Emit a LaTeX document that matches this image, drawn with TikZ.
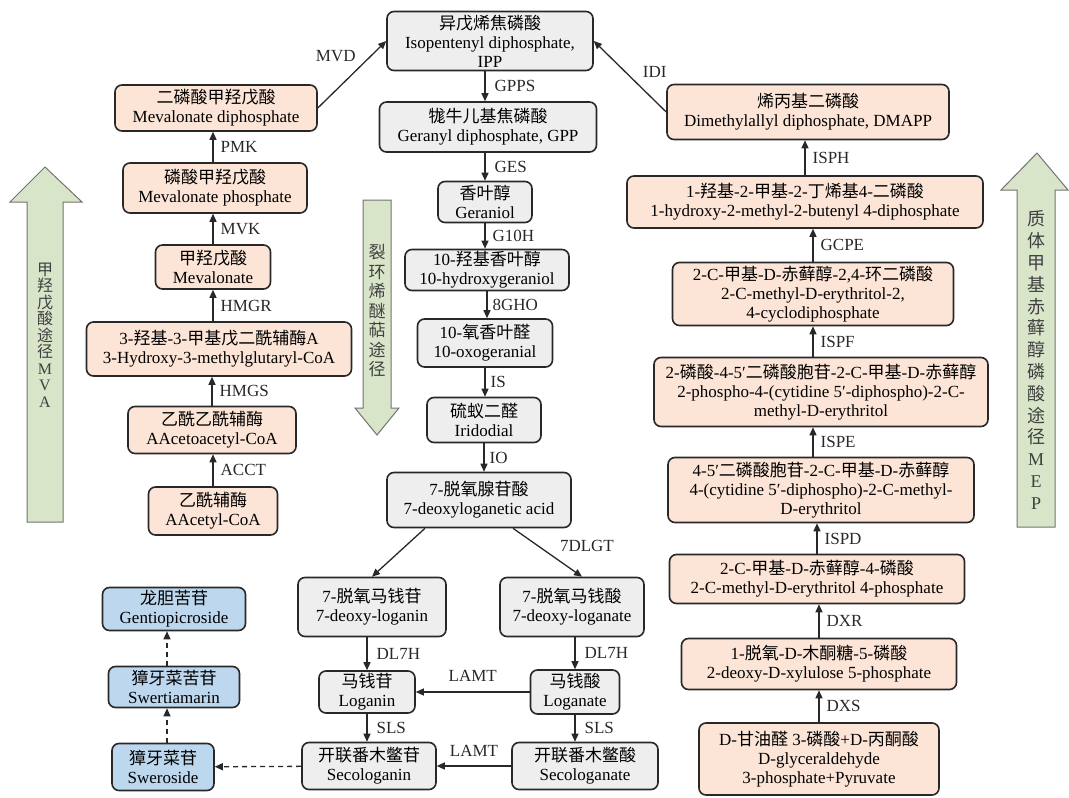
\documentclass[tikz,border=0pt]{standalone}
\usepackage{fontspec}
\setmainfont{Liberation Serif}
\newfontfamily\cjk{Noto Sans CJK SC}
\usetikzlibrary{arrows.meta}
\newcommand{\zh}[1]{{\cjk #1}}
\definecolor{pinkfill}{RGB}{252,228,214}
\definecolor{grayfill}{RGB}{238,238,238}
\definecolor{bluefill}{RGB}{189,215,238}
\definecolor{greenfill}{RGB}{217,229,201}
\definecolor{edgecol}{RGB}{40,40,40}

\begin{document}
\begin{tikzpicture}[x=1pt, y=-1pt,
    box_node/.style={draw=edgecol, line width=1.6pt, rounded corners=7pt, align=center, inner xsep=4pt, inner ysep=2pt, font=\fontsize{17}{19}\selectfont},
    pink_node/.style={box_node, fill=pinkfill},
    gray_node/.style={box_node, fill=grayfill},
    blue_node/.style={box_node, fill=bluefill},
    arr/.style={-{Triangle[length=8pt,width=7pt]}, line width=1.3pt, draw=edgecol},
    dash_arr/.style={arr, dash pattern=on 5pt off 4pt},
    lab/.style={font=\fontsize{17}{19}\selectfont, inner sep=3pt, text=edgecol},
    big_arrow/.style={draw=black!55, line width=1pt, fill=greenfill},
    path_text/.style={align=center, text=black!75}]

    \fill[white] (0,0) rectangle (1069,798);

    % big pathway arrows
    \draw[big_arrow] (27,522) -- (27,202) -- (10,202) -- (45,167) -- (82,202) -- (63,202) -- (63,522) -- cycle;
    \draw[big_arrow] (363,200) -- (363,408) -- (355,408) -- (377,435) -- (399,408) -- (391,408) -- (391,200) -- cycle;
    \draw[big_arrow] (1017,527) -- (1017,190) -- (1001,190) -- (1037,153) -- (1068,190) -- (1055,190) -- (1055,527) -- cycle;
    \node[path_text, font=\cjk\fontsize{16}{16.5}\selectfont] (mva_text) at (45,335) {甲\\羟\\戊\\酸\\途\\径\\\rmfamily M\\\rmfamily V\\\rmfamily A};
    \node[path_text, font=\cjk\fontsize{17}{19.5}\selectfont] (iri_text) at (377,311) {裂\\环\\烯\\醚\\萜\\途\\径};
    \node[path_text, font=\cjk\fontsize{18}{21.8}\selectfont] (mep_text) at (1036,360) {质\\体\\甲\\基\\赤\\藓\\醇\\磷\\酸\\途\\径\\\rmfamily M\\\rmfamily E\\\rmfamily P};

    % MVA pathway
    \node[pink_node, minimum width=202pt, minimum height=46pt] (mvpp) at (216,108) {\zh{二磷酸甲羟戊酸}\\Mevalonate diphosphate};
    \node[pink_node, minimum width=184pt, minimum height=50pt] (mvp) at (215,188) {\zh{磷酸甲羟戊酸}\\Mevalonate phosphate};
    \node[pink_node, minimum width=115pt, minimum height=44pt] (mva) at (213,267) {\zh{甲羟戊酸}\\Mevalonate};
    \node[pink_node, minimum width=265pt, minimum height=54pt] (hmgcoa) at (219,349) {3-\zh{羟基}-3-\zh{甲基戊二酰辅酶}A\\3-Hydroxy-3-methylglutaryl-CoA};
    \node[pink_node, minimum width=168pt, minimum height=47pt] (aacoa) at (212,430) {\zh{乙酰乙酰辅酶}\\AAcetoacetyl-CoA};
    \node[pink_node, minimum width=129pt, minimum height=48pt] (acoa) at (213,511) {\zh{乙酰辅酶}\\AAcetyl-CoA};

    % iridoid pathway
    \node[gray_node, minimum width=206pt, minimum height=59pt] (ipp) at (490,41) {\zh{异戊烯焦磷酸}\\Isopentenyl diphosphate,\\IPP};
    \node[gray_node, minimum width=217pt, minimum height=50pt] (gpp) at (488,127) {\zh{牻牛儿基焦磷酸}\\Geranyl diphosphate, GPP};
    \node[gray_node, minimum width=94pt, minimum height=41pt] (ger) at (485,202) {\zh{香叶醇}\\Geraniol};
    \node[gray_node, minimum width=164pt, minimum height=41pt] (hger) at (487,270) {10-\zh{羟基香叶醇}\\10-hydroxygeraniol};
    \node[gray_node, minimum width=135pt, minimum height=48pt] (oxo) at (485,343) {10-\zh{氧香叶醛}\\10-oxogeranial};
    \node[gray_node, minimum width=114pt, minimum height=45pt] (iri) at (484,420) {\zh{硫蚁二醛}\\Iridodial};
    \node[gray_node, minimum width=184pt, minimum height=55pt] (dla) at (479,500) {7-\zh{脱氧腺苷酸}\\7-deoxyloganetic acid};
    \node[gray_node, minimum width=148pt, minimum height=59pt] (dlgn) at (372,607) {7-\zh{脱氧马钱苷}\\7-deoxy-loganin};
    \node[gray_node, minimum width=144pt, minimum height=59pt] (dlgt) at (572,607) {7-\zh{脱氧马钱酸}\\7-deoxy-loganate};
    \node[gray_node, minimum width=96pt, minimum height=42pt] (lgn) at (367,692) {\zh{马钱苷}\\Loganin};
    \node[gray_node, minimum width=89pt, minimum height=44pt] (lgt) at (575,692) {\zh{马钱酸}\\Loganate};
    \node[gray_node, minimum width=134pt, minimum height=47pt] (slgn) at (369,766) {\zh{开联番木鳖苷}\\Secologanin};
    \node[gray_node, minimum width=146pt, minimum height=47pt] (slgt) at (585,766) {\zh{开联番木鳖酸}\\Secologanate};

    % secoiridoid glycosides
    \node[blue_node, minimum width=143pt, minimum height=43pt] (gen) at (174,609) {\zh{龙胆苦苷}\\Gentiopicroside};
    \node[blue_node, minimum width=131pt, minimum height=41pt] (swm) at (174,687) {\zh{獐牙菜苦苷}\\Swertiamarin};
    \node[blue_node, minimum width=102pt, minimum height=47pt] (swr) at (163,767) {\zh{獐牙菜苷}\\Sweroside};
    \coordinate (dash_x) at (167,0);

    % MEP pathway
    \node[pink_node, minimum width=282pt, minimum height=55pt] (dmapp) at (808,112) {\zh{烯丙基二磷酸}\\Dimethylallyl diphosphate, DMAPP};
    \node[pink_node, minimum width=356pt, minimum height=52pt] (hmbpp) at (805,202) {1-\zh{羟基}-2-\zh{甲基}-2-\zh{丁烯基}4-\zh{二磷酸}\\1-hydroxy-2-methyl-2-butenyl 4-diphosphate};
    \node[pink_node, minimum width=281pt, minimum height=63pt] (mecpp) at (813,294) {2-C-\zh{甲基}-D-\zh{赤藓醇}-2,4-\zh{环二磷酸}\\2-C-methyl-D-erythritol-2,\\4-cyclodiphosphate};
    \node[pink_node, minimum width=334pt, minimum height=69pt] (cdpmep) at (821,392) {2-\zh{磷酸}-4-5′\zh{二磷酸胞苷}-2-C-\zh{甲基}-D-\zh{赤藓醇}\\2-phospho-4-(cytidine 5′-diphospho)-2-C-\\methyl-D-erythritol};
    \node[pink_node, minimum width=306pt, minimum height=65pt] (cdpme) at (821,490) {4-5′\zh{二磷酸胞苷}-2-C-\zh{甲基}-D-\zh{赤藓醇}\\4-(cytidine 5′-diphospho)-2-C-methyl-\\D-erythritol};
    \node[pink_node, minimum width=295pt, minimum height=49pt] (mep) at (817,579) {2-C-\zh{甲基}-D-\zh{赤藓醇}-4-\zh{磷酸}\\2-C-methyl-D-erythritol 4-phosphate};
    \node[pink_node, minimum width=275pt, minimum height=51pt] (dxp) at (819,664) {1-\zh{脱氧}-D-\zh{木酮糖}-5-\zh{磷酸}\\2-deoxy-D-xylulose 5-phosphate};
    \node[pink_node, minimum width=240pt, minimum height=72pt] (g3p) at (819,759) {D-\zh{甘油醛} 3-\zh{磷酸}+D-\zh{丙酮酸}\\D-glyceraldehyde\\3-phosphate+Pyruvate};

    % MVA steps
    \draw[arr] (acoa) -- (acoa |- aacoa.south) node[lab, midway, right=4pt] {ACCT};
    \draw[arr] (aacoa) -- (aacoa |- hmgcoa.south) node[lab, midway, right=4pt] {HMGS};
    \draw[arr] (hmgcoa.north -| mva) -- (mva) node[lab, midway, right=4pt] {HMGR};
    \draw[arr] (mva) -- (mva |- mvp.south) node[lab, midway, right=4pt] {MVK};
    \draw[arr] (mvp.north -| mva) -- (mvpp.south -| mva) node[lab, midway, right=4pt] {PMK};
    \draw[arr] (mvpp.east) -- (ipp.west) node[lab, pos=0.62, above left=1pt] {MVD};

    % iridoid steps
    \draw[arr] (ipp.south -| ger) -- (gpp.north -| ger) node[lab, midway, right=6pt] {GPPS};
    \draw[arr] (gpp.south -| ger) -- (ger) node[lab, midway, right=6pt] {GES};
    \draw[arr] (ger) -- (ger |- hger.north) node[lab, midway, right=4pt] {G10H};
    \draw[arr] (hger) -- (hger |- oxo.north) node[lab, midway, right=2pt] {8GHO};
    \draw[arr] (oxo) -- (oxo |- iri.north) node[lab, midway, right=2pt] {IS};
    \draw[arr] (iri) -- (iri |- dla.north) node[lab, midway, right=2pt] {IO};
    \draw[arr] ([xshift=-54pt]dla.south) -- (dlgn.north);
    \draw[arr] ([xshift=34pt]dla.south) -- ([xshift=10pt]dlgt.north) node[lab, pos=0.6, above right=2pt] {7DLGT};
    \draw[arr] (dlgn.south -| lgn) -- (lgn) node[lab, midway, right=6pt] {DL7H};
    \draw[arr] (dlgt.south -| lgt) -- (lgt) node[lab, midway, right=6pt] {DL7H};
    \draw[arr] (lgt) -- (lgn) node[lab, midway, above=7pt] {LAMT};
    \draw[arr] (lgn) -- (lgn |- slgn.north) node[lab, midway, right=6pt] {SLS};
    \draw[arr] (lgt) -- (lgt |- slgt.north) node[lab, midway, right=6pt] {SLS};
    \draw[arr] (slgt) -- (slgn) node[lab, midway, above=6pt] {LAMT};

    % glycosides
    \draw[dash_arr] (slgn) -- (swr);
    \draw[dash_arr] (swr.north -| dash_x) -- (swm.south -| dash_x);
    \draw[dash_arr] (swm.north -| dash_x) -- (gen.south -| dash_x);

    % MEP steps
    \draw[arr] (g3p) -- (g3p |- dxp.south) node[lab, midway, right=4pt] {DXS};
    \draw[arr] (dxp) -- (dxp |- mep.south) node[lab, midway, right=4pt] {DXR};
    \draw[arr] (mep) -- (mep |- cdpme.south) node[lab, midway, right=4pt] {ISPD};
    \draw[arr] (cdpme.north -| mecpp) -- (cdpmep.south -| mecpp) node[lab, midway, right=4pt] {ISPE};
    \draw[arr] (cdpmep.north -| mecpp) -- (mecpp) node[lab, midway, right=4pt] {ISPF};
    \draw[arr] (mecpp) -- (mecpp |- hmbpp.south) node[lab, midway, right=4pt] {GCPE};
    \draw[arr] (hmbpp) -- (hmbpp |- dmapp.south) node[lab, midway, right=4pt] {ISPH};
    \draw[arr] (dmapp.west) -- (ipp.east) node[lab, pos=0.4, above right=2pt] {IDI};

\end{tikzpicture}
\end{document}
